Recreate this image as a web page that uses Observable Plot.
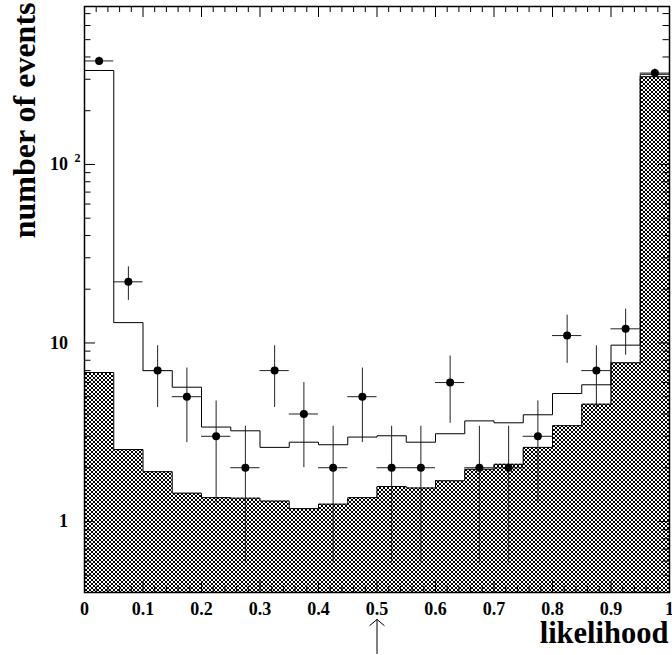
<!DOCTYPE html>
<html><head><meta charset="utf-8">
<script src="https://cdn.jsdelivr.net/npm/d3@7"></script>
<script src="https://cdn.jsdelivr.net/npm/@observablehq/plot@0.6"></script>
<style>html,body{margin:0;padding:0;background:#fff} svg{display:block}</style>
</head><body><div id="chart"></div>
<script>
// ---- data ----
const binEdges = [0,0.05,0.1,0.15,0.2,0.25,0.3,0.35,0.4,0.45,0.5,0.55,0.6,0.65,0.7,0.75,0.8,0.85,0.9,0.95,1];
const observed = [380,22,7,5,3,2,7,4,2,5,2,2,6,2,2,3,11,7,12,325];
const totalExpected = [336,13,7.0,5.65,3.38,3.22,2.6,2.78,2.69,2.97,3.02,2.78,3.1,3.66,3.57,3.96,5.21,5.83,9.72,320];
const background = [6.83,2.53,1.9,1.44,1.36,1.35,1.3,1.18,1.25,1.36,1.57,1.54,1.69,1.96,2.09,2.6,3.44,4.54,7.74,310];
const xTickValues = [0,0.1,0.2,0.3,0.4,0.5,0.6,0.7,0.8,0.9,1];
const xTickLabels = ["0","0.1","0.2","0.3","0.4","0.5","0.6","0.7","0.8","0.9","1"];
const xMinorTicks = d3.range(0, 51).map(i => i / 50).filter((d, i) => i % 5 !== 0);
const yMajorTicks = [1,10,100];
const yTickLabels = ["1","10","10"];
const yMinorTicks = [0.4,0.5,0.6,0.7,0.8,0.9,2,3,4,5,6,7,8,9,20,30,40,50,60,70,80,90,200,300,400,500,600,700];
const yDomain = [0.4, 767];
const cutValue = [0.5];
const arrowYRange = [0.182, 0.2825];

// ---- layout ----
const W = 672, H = 655;
const mL = 84, mR = 3, mT = 6, mB = 63;
const innerW = W - mL - mR, innerH = H - mT - mB;
const font = "'Liberation Serif', 'Times New Roman', serif";

const rows = observed.map((n, i) => ({
  x1: binEdges[i], x2: binEdges[i + 1], xc: (binEdges[i] + binEdges[i + 1]) / 2,
  n, lo: n - Math.sqrt(n), hi: n + Math.sqrt(n)
}));
const stepOf = arr => binEdges.map((e, i) => ({x: e, y: arr[Math.min(i, arr.length - 1)]}));
const totalStep = stepOf(totalExpected);
const bgStep = stepOf(background);

// crisp pixel cross-hatch (4x4 cell with an X of single pixels)
const defs = () => {
  const ns = "http://www.w3.org/2000/svg";
  const d = document.createElementNS(ns, "defs");
  const px = [[0,0],[1,1],[2,2],[3,3],[3,0],[2,1],[1,2],[0,3]]
    .map(([x, y]) => `<rect x="${x}" y="${y}" width="1" height="1" fill="#000"/>`).join("");
  d.innerHTML = `<pattern id="hatch" patternUnits="userSpaceOnUse" width="4" height="4" shape-rendering="crispEdges">
    <rect width="4" height="4" fill="#fff"/>${px}
  </pattern>`;
  return d;
};

const chart = Plot.plot({
  width: W, height: H,
  marginLeft: mL, marginRight: mR, marginTop: mT, marginBottom: mB,
  style: {fontFamily: font, background: "#fff"},
  x: {domain: [0, 1], axis: null},
  y: {type: "log", domain: yDomain, axis: null},
  marks: [
    defs,
    Plot.areaY(bgStep, {x: "x", y1: yDomain[0], y2: "y", curve: "step-after", fill: "url(#hatch)"}),
    Plot.line(bgStep, {x: "x", y: "y", curve: "step-after", stroke: "#000", strokeWidth: 1}),
    Plot.line(totalStep, {x: "x", y: "y", curve: "step-after", stroke: "#000", strokeWidth: 1}),
    Plot.ruleX(rows, {x: "xc", y1: "lo", y2: "hi", stroke: "#222", strokeWidth: 1}),
    Plot.ruleY(rows, {y: "n", x1: "x1", x2: "x2", stroke: "#222", strokeWidth: 1}),
    Plot.dot(rows, {x: "xc", y: "n", r: 4, fill: "#000", stroke: null}),
    // ticks, inward on all four sides
    Plot.tickX(xTickValues, {x: d => d, insetTop: innerH - 11, stroke: "#000"}),
    Plot.tickX(xMinorTicks, {x: d => d, insetTop: innerH - 6, stroke: "#000"}),
    Plot.tickX(xTickValues, {x: d => d, insetBottom: innerH - 11, stroke: "#000"}),
    Plot.tickX(xMinorTicks, {x: d => d, insetBottom: innerH - 6, stroke: "#000"}),
    Plot.tickY(yMajorTicks, {y: d => d, insetRight: innerW - 11, stroke: "#000"}),
    Plot.tickY(yMinorTicks, {y: d => d, insetRight: innerW - 6.5, stroke: "#000"}),
    Plot.tickY(yMajorTicks, {y: d => d, insetLeft: innerW - 11, stroke: "#000"}),
    Plot.tickY(yMinorTicks, {y: d => d, insetLeft: innerW - 6.5, stroke: "#000"}),
    Plot.frame({stroke: "#000", strokeWidth: 1.5}),
    // tick labels
    Plot.text(xTickValues, {x: d => d, text: (d, i) => xTickLabels[i], frameAnchor: "bottom", lineAnchor: "bottom", dy: 22, fontSize: 18, fontWeight: "bold", fill: "#000"}),
    Plot.text(yMajorTicks, {y: d => d, text: (d, i) => yTickLabels[i], frameAnchor: "left", textAnchor: "end", dx: -16.5, fontSize: 18, fontWeight: "bold", fill: "#000"}),
    Plot.text([100], {y: d => d, text: () => "2", frameAnchor: "left", textAnchor: "start", dx: -10, dy: -6, fontSize: 12, fontWeight: "bold", fill: "#000"}),
    // axis titles
    Plot.text(["number of events"], {frameAnchor: "top-left", rotate: -90, textAnchor: "end", lineAnchor: "bottom", dx: -50, dy: -4, fontSize: 32, fontWeight: "bold", fill: "#000"}),
    Plot.text(["likelihood"], {frameAnchor: "bottom-right", textAnchor: "end", lineAnchor: "bottom", dx: -1, dy: 50, fontSize: 30.5, fontWeight: "bold", fill: "#000"}),
    // cut arrow
    Plot.arrow(cutValue, {x1: d => d, x2: d => d, y1: arrowYRange[0], y2: arrowYRange[1], headLength: 14, headAngle: 100, stroke: "#000", strokeWidth: 1})
  ]
});
document.getElementById("chart").append(chart);
</script>
</body></html>
